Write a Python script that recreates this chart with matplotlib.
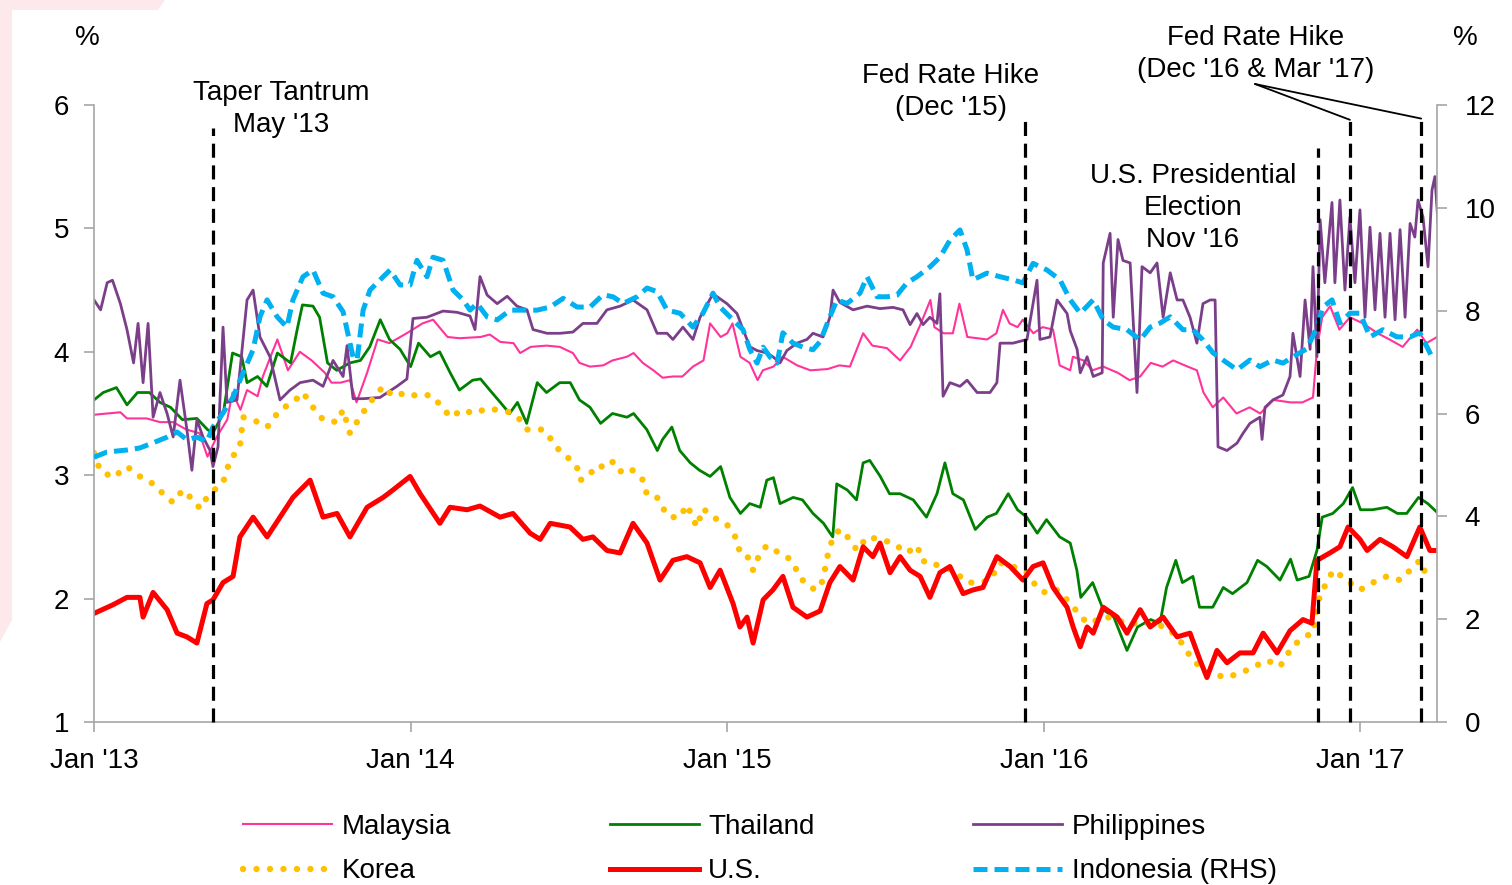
import matplotlib.pyplot as plt
from matplotlib.patches import Polygon

plt.rcParams['font.family'] = ['Liberation Sans', 'DejaVu Sans']

W, H = 1512, 885

# (months since Jan 2013, yield %)
malaysia = [(0.0, 3.49), (1.0, 3.51), (1.25, 3.46), (2.0, 3.46), (2.5, 3.43), (3.0, 3.43), (3.5, 3.37),
            (4.0, 3.34), (4.3, 3.15), (4.65, 3.31), (5.05, 3.45), (5.25, 3.67), (5.55, 3.53), (5.8, 3.69),
            (6.2, 3.64), (6.4, 3.80), (6.8, 4.02), (6.95, 4.10), (7.35, 3.85), (7.8, 4.00), (8.25, 3.93),
            (8.75, 3.83), (9.0, 3.75), (9.35, 3.75), (9.7, 3.77), (9.95, 3.59), (10.35, 3.83), (10.75, 4.10),
            (11.2, 4.07), (11.85, 4.15), (12.45, 4.23), (12.85, 4.26), (13.4, 4.12), (13.85, 4.11),
            (14.65, 4.12), (15.0, 4.14), (15.4, 4.08), (15.9, 4.07), (16.15, 3.99), (16.55, 4.04),
            (17.15, 4.05), (17.65, 4.04), (18.15, 3.99), (18.4, 3.91), (18.8, 3.88), (19.3, 3.89),
            (19.65, 3.93), (20.2, 3.96), (20.45, 3.99), (20.8, 3.91), (21.2, 3.85), (21.55, 3.79),
            (21.95, 3.80), (22.3, 3.80), (22.7, 3.88), (23.1, 3.93), (23.35, 4.23), (23.75, 4.12),
            (24.0, 4.15), (24.2, 4.23), (24.5, 3.96), (24.85, 3.91), (25.15, 3.77), (25.35, 3.85),
            (25.75, 3.88), (26.1, 3.96), (26.65, 3.89), (27.15, 3.85), (27.8, 3.86), (28.25, 3.89),
            (28.65, 3.88), (29.15, 4.15), (29.5, 4.05), (30.05, 4.03), (30.55, 3.93), (30.95, 4.04),
            (31.3, 4.21), (31.7, 4.42), (31.85, 4.20), (32.2, 4.15), (32.55, 4.15), (32.8, 4.39),
            (33.1, 4.12), (33.85, 4.10), (34.2, 4.15), (34.45, 4.34), (34.7, 4.23), (35.0, 4.20),
            (35.2, 4.26), (35.6, 4.15), (35.95, 4.20), (36.35, 4.18), (36.6, 3.89), (37.0, 3.85),
            (37.1, 3.96), (37.5, 3.93), (37.85, 3.85), (38.25, 3.88), (38.8, 3.83), (39.25, 3.77),
            (39.65, 3.80), (40.05, 3.91), (40.5, 3.88), (40.9, 3.93), (41.45, 3.88), (41.8, 3.85),
            (42.05, 3.67), (42.4, 3.55), (42.8, 3.63), (43.3, 3.50), (43.8, 3.55), (44.2, 3.50),
            (44.7, 3.61), (45.35, 3.59), (45.8, 3.59), (46.2, 3.63), (46.35, 4.02), (46.55, 4.28),
            (46.85, 4.37), (47.2, 4.18), (47.6, 4.28), (48.1, 4.23), (48.65, 4.15), (49.1, 4.10),
            (49.6, 4.04), (50.15, 4.18), (50.5, 4.07), (50.9, 4.12)]

thailand = [(0.0, 3.61), (0.35, 3.67), (0.85, 3.71), (1.25, 3.57), (1.65, 3.67), (2.1, 3.67), (2.5, 3.59),
            (2.9, 3.55), (3.35, 3.45), (3.9, 3.46), (4.3, 3.37), (4.5, 3.34), (4.9, 3.50), (5.25, 3.99),
            (5.6, 3.96), (5.8, 3.75), (6.2, 3.80), (6.55, 3.72), (6.95, 3.99), (7.45, 3.91), (7.7, 4.18),
            (7.9, 4.38), (8.3, 4.37), (8.55, 4.28), (8.85, 3.91), (9.2, 3.85), (9.7, 3.91), (10.1, 3.93),
            (10.45, 4.04), (10.85, 4.26), (11.2, 4.10), (11.6, 4.02), (12.0, 3.88), (12.3, 4.07),
            (12.75, 3.96), (13.1, 4.00), (13.5, 3.83), (13.85, 3.69), (14.35, 3.77), (14.65, 3.78),
            (15.0, 3.69), (15.4, 3.59), (15.75, 3.50), (16.05, 3.59), (16.4, 3.42), (16.8, 3.75),
            (17.15, 3.67), (17.65, 3.75), (18.05, 3.75), (18.4, 3.61), (18.8, 3.55), (19.2, 3.42),
            (19.65, 3.50), (20.2, 3.47), (20.45, 3.50), (20.95, 3.37), (21.35, 3.20), (21.55, 3.29),
            (21.9, 3.39), (22.2, 3.20), (22.6, 3.10), (22.95, 3.04), (23.35, 2.99), (23.75, 3.07),
            (24.1, 2.82), (24.5, 2.69), (24.85, 2.77), (25.25, 2.74), (25.5, 2.96), (25.75, 2.98),
            (26.0, 2.77), (26.5, 2.82), (26.85, 2.80), (27.25, 2.69), (27.65, 2.61), (27.9, 2.53),
            (28.0, 2.50), (28.15, 2.93), (28.55, 2.88), (28.9, 2.80), (29.15, 3.10), (29.4, 3.12),
            (29.8, 2.99), (30.15, 2.85), (30.55, 2.85), (31.05, 2.80), (31.55, 2.66), (31.95, 2.85),
            (32.25, 3.10), (32.55, 2.85), (32.95, 2.80), (33.4, 2.56), (33.85, 2.66), (34.2, 2.69),
            (34.65, 2.85), (35.0, 2.72), (35.35, 2.66), (35.75, 2.53), (36.1, 2.64), (36.6, 2.50),
            (37.0, 2.45), (37.25, 2.23), (37.4, 2.01), (37.85, 2.13), (38.25, 1.91), (38.65, 1.85),
            (39.15, 1.58), (39.55, 1.77), (40.05, 1.83), (40.4, 1.80), (40.65, 2.09), (41.0, 2.31),
            (41.25, 2.13), (41.65, 2.18), (41.9, 1.93), (42.4, 1.93), (42.8, 2.09), (43.15, 2.04),
            (43.7, 2.13), (44.1, 2.31), (44.45, 2.26), (44.95, 2.15), (45.35, 2.32), (45.6, 2.15),
            (46.05, 2.18), (46.35, 2.39), (46.55, 2.66), (46.95, 2.69), (47.35, 2.77), (47.7, 2.90),
            (48.0, 2.72), (48.45, 2.72), (49.0, 2.74), (49.4, 2.69), (49.75, 2.69), (50.2, 2.82),
            (50.55, 2.77), (50.9, 2.70)]

philippines = [(0.0, 4.42), (0.25, 4.34), (0.5, 4.56), (0.7, 4.58), (1.0, 4.39), (1.25, 4.18), (1.5, 3.91),
               (1.67, 4.23), (1.86, 3.75), (2.05, 4.23), (2.24, 3.47), (2.5, 3.67), (2.77, 3.50),
               (3.0, 3.31), (3.26, 3.77), (3.52, 3.37), (3.71, 3.04), (3.9, 3.45), (4.13, 3.31),
               (4.4, 3.20), (4.51, 3.07), (4.7, 3.23), (4.89, 4.20), (5.04, 3.59), (5.42, 3.61),
               (5.8, 4.42), (6.03, 4.50), (6.29, 4.12), (6.67, 3.96), (7.05, 3.61), (7.43, 3.69),
               (7.81, 3.75), (8.3, 3.77), (8.68, 3.72), (9.06, 3.93), (9.44, 3.80), (9.59, 4.05),
               (9.82, 3.62), (10.2, 3.62), (10.84, 3.63), (11.48, 3.72), (11.86, 3.78), (12.09, 4.27),
               (12.62, 4.28), (13.23, 4.33), (13.76, 4.32), (14.25, 4.29), (14.44, 4.18), (14.63, 4.61),
               (14.9, 4.46), (15.28, 4.39), (15.66, 4.45), (16.03, 4.37), (16.41, 4.34), (16.64, 4.18),
               (17.17, 4.15), (17.66, 4.15), (18.15, 4.16), (18.53, 4.23), (19.06, 4.23), (19.44, 4.34),
               (19.94, 4.37), (20.43, 4.42), (20.96, 4.34), (21.34, 4.15), (21.72, 4.15), (21.94, 4.10),
               (22.32, 4.20), (22.7, 4.10), (22.97, 4.28), (23.46, 4.47), (23.99, 4.39), (24.37, 4.31),
               (24.6, 4.18), (24.86, 4.04), (25.13, 4.01), (25.51, 3.99), (25.73, 3.96), (26.0, 3.91),
               (26.26, 4.01), (26.64, 4.07), (27.02, 4.10), (27.25, 4.15), (27.63, 4.12), (27.89, 4.28),
               (28.01, 4.50), (28.27, 4.40), (28.77, 4.34), (29.3, 4.37), (29.79, 4.35), (30.28, 4.36),
               (30.66, 4.34), (30.93, 4.22), (31.19, 4.31), (31.42, 4.22), (31.68, 4.28), (31.95, 4.23),
               (32.06, 4.47), (32.18, 3.64), (32.44, 3.75), (32.82, 3.72), (33.09, 3.77), (33.47, 3.67),
               (33.96, 3.67), (34.22, 3.75), (34.34, 4.07), (34.83, 4.07), (35.36, 4.10), (35.74, 4.58),
               (35.85, 4.10), (36.23, 4.12), (36.5, 4.42), (36.88, 4.31), (37.0, 4.17), (37.26, 4.02),
               (37.38, 3.83), (37.64, 3.96), (37.87, 3.80), (38.21, 3.83), (38.25, 4.72), (38.51, 4.96),
               (38.63, 4.28), (38.81, 4.91), (39.0, 4.74), (39.27, 4.72), (39.53, 3.67), (39.72, 4.69),
               (40.03, 4.64), (40.29, 4.72), (40.52, 4.28), (40.79, 4.64), (41.05, 4.42), (41.27, 4.42),
               (41.54, 4.28), (41.8, 4.07), (42.03, 4.39), (42.3, 4.42), (42.49, 4.42), (42.6, 3.23),
               (42.94, 3.20), (43.32, 3.26), (43.55, 3.34), (43.81, 3.42), (44.19, 3.47), (44.27, 3.29),
               (44.38, 3.55), (44.68, 3.61), (45.06, 3.65), (45.33, 3.80), (45.44, 4.15), (45.71, 3.80),
               (45.9, 4.42), (46.09, 4.02), (46.2, 4.69), (46.35, 3.96), (46.47, 5.07), (46.65, 4.56),
               (46.92, 5.21), (47.03, 4.56), (47.22, 5.23), (47.41, 4.50), (47.6, 5.09), (47.79, 4.56),
               (47.98, 5.15), (48.17, 4.28), (48.36, 5.01), (48.55, 4.34), (48.74, 4.96), (48.93, 4.28),
               (49.12, 4.96), (49.31, 4.26), (49.5, 4.99), (49.69, 4.28), (49.88, 5.04), (50.06, 4.93),
               (50.18, 5.23), (50.37, 5.09), (50.56, 4.69), (50.71, 5.31), (50.82, 5.42), (50.94, 5.04)]

korea = [(0.0, 3.18), (0.23, 3.04), (0.72, 2.98), (1.25, 3.07), (1.74, 2.99), (2.24, 2.93), (2.62, 2.85),
         (2.99, 2.78), (3.37, 2.88), (3.75, 2.80), (4.02, 2.73), (4.28, 2.82), (4.66, 2.90), (4.89, 2.94),
         (5.15, 3.12), (5.53, 3.23), (5.65, 3.47), (6.03, 3.45), (6.56, 3.39), (7.05, 3.53), (7.54, 3.59),
         (7.92, 3.67), (8.3, 3.55), (8.68, 3.45), (9.21, 3.43), (9.44, 3.53), (9.7, 3.34), (10.08, 3.47),
         (10.46, 3.59), (10.96, 3.72), (11.33, 3.64), (11.86, 3.67), (12.24, 3.64), (12.74, 3.65),
         (13.23, 3.55), (13.49, 3.47), (13.99, 3.53), (14.37, 3.50), (14.9, 3.54), (15.28, 3.53),
         (15.77, 3.51), (16.15, 3.45), (16.41, 3.37), (17.02, 3.37), (17.29, 3.30), (17.55, 3.22),
         (17.93, 3.15), (18.31, 3.06), (18.42, 2.96), (18.69, 2.98), (19.06, 3.08), (19.44, 3.06),
         (19.67, 3.11), (19.94, 3.03), (20.31, 3.06), (20.81, 2.96), (20.96, 2.84), (21.34, 2.82),
         (21.53, 2.74), (21.83, 2.66), (22.21, 2.66), (22.47, 2.76), (22.85, 2.58), (23.08, 2.73),
         (23.46, 2.66), (23.99, 2.60), (24.37, 2.48), (24.48, 2.37), (24.75, 2.35), (24.98, 2.23),
         (25.24, 2.37), (25.51, 2.43), (25.89, 2.38), (26.26, 2.34), (26.49, 2.29), (26.76, 2.17),
         (27.14, 2.09), (27.4, 2.07), (27.63, 2.15), (27.78, 2.33), (28.01, 2.50), (28.27, 2.56),
         (28.65, 2.48), (28.92, 2.39), (29.3, 2.50), (29.79, 2.48), (30.28, 2.45), (30.81, 2.37),
         (31.19, 2.43), (31.42, 2.30), (31.57, 2.31), (32.06, 2.26), (32.56, 2.23), (33.09, 2.13),
         (33.58, 2.13), (33.96, 2.15), (34.34, 2.29), (34.83, 2.26), (35.36, 2.21), (35.74, 2.09),
         (36.12, 2.04), (36.5, 2.07), (36.88, 1.99), (37.64, 1.80), (38.4, 1.85), (39.15, 1.80),
         (39.91, 1.80), (40.67, 1.77), (41.16, 1.66), (41.65, 1.50), (42.18, 1.40), (42.94, 1.36),
         (43.7, 1.42), (44.46, 1.50), (44.95, 1.45), (45.44, 1.62), (45.97, 1.70), (46.2, 1.72),
         (46.47, 2.04), (46.73, 2.13), (46.96, 2.23), (47.3, 2.18), (47.6, 2.13), (47.98, 2.07),
         (48.47, 2.13), (49.0, 2.18), (49.5, 2.15), (49.88, 2.23), (50.25, 2.31), (50.52, 2.18),
         (50.75, 2.16)]

us = [(0.0, 1.88), (0.72, 1.95), (1.25, 2.01), (1.74, 2.01), (1.86, 1.85), (2.24, 2.05), (2.77, 1.91),
      (3.15, 1.72), (3.52, 1.69), (3.9, 1.64), (4.28, 1.96), (4.51, 1.99), (4.89, 2.13), (5.27, 2.18),
      (5.53, 2.50), (6.03, 2.66), (6.56, 2.50), (7.05, 2.66), (7.54, 2.82), (8.19, 2.96), (8.68, 2.66),
      (9.21, 2.69), (9.7, 2.50), (10.35, 2.74), (10.96, 2.82), (11.33, 2.88), (11.98, 2.99),
      (12.36, 2.85), (13.11, 2.61), (13.49, 2.74), (14.14, 2.72), (14.63, 2.75), (15.39, 2.66),
      (15.88, 2.69), (16.53, 2.53), (16.91, 2.48), (17.29, 2.61), (18.04, 2.58), (18.53, 2.48),
      (18.91, 2.50), (19.44, 2.39), (19.94, 2.37), (20.43, 2.61), (20.96, 2.45), (21.45, 2.15),
      (21.94, 2.31), (22.47, 2.34), (22.97, 2.29), (23.35, 2.09), (23.73, 2.23), (24.22, 1.96),
      (24.48, 1.77), (24.75, 1.85), (24.98, 1.64), (25.36, 1.99), (25.73, 2.07), (26.11, 2.18),
      (26.49, 1.93), (27.02, 1.85), (27.52, 1.90), (27.89, 2.13), (28.27, 2.26), (28.77, 2.15),
      (29.15, 2.42), (29.52, 2.34), (29.79, 2.45), (30.17, 2.21), (30.55, 2.34), (30.93, 2.23),
      (31.31, 2.18), (31.68, 2.01), (32.06, 2.21), (32.44, 2.26), (32.94, 2.04), (33.31, 2.07),
      (33.69, 2.09), (34.22, 2.34), (34.72, 2.26), (35.21, 2.15), (35.59, 2.26), (35.97, 2.29),
      (36.35, 2.09), (36.61, 2.01), (36.88, 1.93), (37.11, 1.77), (37.38, 1.61), (37.64, 1.77),
      (37.87, 1.72), (38.25, 1.93), (38.78, 1.85), (39.15, 1.72), (39.65, 1.91), (40.03, 1.77),
      (40.52, 1.85), (41.05, 1.69), (41.54, 1.72), (41.92, 1.50), (42.18, 1.36), (42.56, 1.58),
      (42.94, 1.48), (43.43, 1.56), (43.93, 1.56), (44.31, 1.72), (44.84, 1.56), (45.33, 1.74),
      (45.82, 1.83), (46.16, 1.80), (46.35, 2.31), (46.84, 2.37), (47.22, 2.42), (47.53, 2.58),
      (47.98, 2.48), (48.25, 2.39), (48.74, 2.48), (49.23, 2.42), (49.76, 2.34), (50.25, 2.58),
      (50.63, 2.39), (50.94, 2.39)]

indonesia = [(0.0, 5.15), (0.49, 5.25), (1.25, 5.29), (1.74, 5.33), (2.24, 5.43), (2.77, 5.54), (3.15, 5.64),
             (3.52, 5.49), (3.9, 5.54), (4.28, 5.45), (4.51, 5.74), (4.89, 6.01), (5.27, 6.32), (5.65, 6.79),
             (6.03, 7.24), (6.29, 7.88), (6.56, 8.21), (6.94, 7.88), (7.31, 7.68), (7.54, 8.21), (7.92, 8.66),
             (8.3, 8.79), (8.68, 8.34), (9.06, 8.27), (9.44, 7.98), (9.7, 7.37), (9.82, 7.10), (9.97, 7.04),
             (10.2, 8.01), (10.46, 8.40), (10.96, 8.66), (11.22, 8.79), (11.6, 8.50), (11.98, 8.50),
             (12.24, 8.98), (12.62, 8.66), (12.85, 9.04), (13.23, 8.98), (13.61, 8.40), (13.99, 8.21),
             (14.25, 8.01), (14.52, 8.14), (14.9, 7.88), (15.28, 7.82), (15.77, 8.01), (16.26, 8.01),
             (16.79, 8.01), (17.29, 8.07), (17.78, 8.24), (18.31, 8.07), (18.8, 8.07), (19.29, 8.31),
             (19.67, 8.27), (20.05, 8.14), (20.58, 8.27), (20.96, 8.44), (21.34, 8.37), (21.72, 8.01),
             (22.21, 7.95), (22.7, 7.68), (23.08, 7.95), (23.46, 8.34), (23.73, 8.07), (24.22, 7.82),
             (24.6, 7.63), (24.86, 7.24), (25.13, 6.98), (25.36, 7.29), (25.62, 7.10), (25.89, 6.98),
             (26.11, 7.57), (26.49, 7.37), (26.87, 7.29), (27.25, 7.24), (27.52, 7.40), (27.89, 7.88),
             (28.16, 8.21), (28.54, 8.14), (29.03, 8.34), (29.3, 8.66), (29.68, 8.27), (30.05, 8.27),
             (30.43, 8.30), (30.81, 8.54), (31.19, 8.66), (31.68, 8.85), (32.06, 9.04), (32.44, 9.37),
             (32.82, 9.57), (33.09, 9.18), (33.31, 8.60), (33.84, 8.73), (34.34, 8.66), (34.83, 8.60),
             (35.21, 8.54), (35.59, 8.92), (36.12, 8.79), (36.61, 8.60), (37.0, 8.21), (37.38, 7.95),
             (37.87, 8.21), (38.25, 7.82), (38.63, 7.68), (39.15, 7.63), (39.65, 7.43), (40.03, 7.68),
             (40.41, 7.76), (40.79, 7.88), (41.27, 7.63), (41.65, 7.63), (42.03, 7.43), (42.41, 7.18),
             (42.79, 7.04), (43.32, 6.85), (43.81, 7.04), (44.19, 6.91), (44.68, 7.04), (45.06, 6.98),
             (45.44, 7.10), (45.97, 7.26), (46.35, 7.68), (46.58, 8.07), (46.92, 8.21), (47.22, 7.76),
             (47.6, 7.95), (47.98, 7.95), (48.36, 7.49), (48.85, 7.63), (49.38, 7.49), (49.88, 7.49),
             (50.25, 7.57), (50.71, 7.10)]

tick_months = [0, 12, 24, 36, 48]
tick_labels = ["Jan '13", "Jan '14", "Jan '15", "Jan '16", "Jan '17"]

# event lines: month position, top of line (left-axis units)
event_m = [4.5, 35.3, 46.4, 47.6, 50.3]
event_top = [5.81, 5.92, 5.65, 5.88, 5.89]


def px(x, y):
    return x / W, 1 - y / H


fig = plt.figure(figsize=(W / 100, H / 100), dpi=100)
fig.patches.append(Polygon([px(0, 0), px(165, 0), px(158, 10), px(12, 10), px(12, 620), px(0, 642)],
                           closed=True, transform=fig.transFigure, facecolor='#fde9ec',
                           edgecolor='none', zorder=0))

ax = fig.add_axes([94 / W, 1 - 722 / H, (1437 - 94) / W, (722 - 105) / H])
ax2 = ax.twinx()

styles = dict(
    Malaysia=dict(color='#FF3399', lw=1.5),
    Thailand=dict(color='#008000', lw=2.0),
    Philippines=dict(color='#7B3F8A', lw=2.0),
    Korea=dict(color='#FFC000', lw=4.6, linestyle=(0, (0.01, 2.1)), dash_capstyle='round'),
)

handles = {}
for name, data in [('Malaysia', malaysia), ('Thailand', thailand),
                   ('Philippines', philippines), ('Korea', korea)]:
    m, v = zip(*data)
    handles[name], = ax.plot(m, v, label=name, **styles[name])

m, v = zip(*us)
handles['U.S.'], = ax.plot(m, v, color='#FF0000', lw=3.6, label='U.S.')

m, v = zip(*indonesia)
handles['Indonesia (RHS)'], = ax2.plot(m, v, color='#00B0F0', lw=3.6, linestyle=(0, (2.8, 1.4)),
                                       label='Indonesia (RHS)')

# event lines on top of everything
for em, et in zip(event_m, event_top):
    ax2.plot([em, em], [0, (et - 1) / 5], transform=ax2.get_xaxis_transform(),
             color='black', lw=2.3, linestyle=(0, (4.4, 2.4)), clip_on=False)

ax.set_xlim(0, 50.9)
ax.set_ylim(1, 6)
ax2.set_ylim(0, 12)
ax.set_xticks(tick_months)
ax.set_xticklabels(tick_labels)
ax.set_yticks([1, 2, 3, 4, 5, 6])
ax2.set_yticks([0, 2, 4, 6, 8, 10, 12])

spine_col = '#a6a6a6'
for a in (ax, ax2):
    a.spines['top'].set_visible(False)
    for s in a.spines.values():
        s.set_color(spine_col)
        s.set_linewidth(1.2)
ax.spines['right'].set_visible(False)
ax2.spines['left'].set_visible(False)
ax2.spines['bottom'].set_visible(False)

ax.tick_params(axis='x', direction='out', length=7, width=1.2, color=spine_col, pad=12, labelsize=20)
ax.tick_params(axis='y', direction='out', length=7, width=1.2, color=spine_col, pad=11, labelsize=20)
ax2.tick_params(axis='y', direction='out', length=7, width=1.2, color=spine_col, pad=13, labelsize=20)

# annotations
txt = dict(fontsize=20, ha='center', va='center', linespacing=1.32)
fig.text(*px(87, 38), '%', **txt)
fig.text(*px(1465, 38), '%', **txt)
fig.text(*px(281, 109), 'Taper Tantrum\nMay \'13', **txt)
fig.text(*px(951, 92), 'Fed Rate Hike\n(Dec \'15)', **txt)
fig.text(*px(1256, 54), 'Fed Rate Hike\n(Dec \'16 & Mar \'17)', **txt)
fig.text(*px(1193, 208), 'U.S. Presidential\nElection\nNov \'16', **txt)

for em, et in zip(event_m[3:], event_top[3:]):
    ax.annotate('', xy=(em, et), xycoords='data', xytext=px(1255, 84), textcoords='figure fraction',
                arrowprops=dict(arrowstyle='-', color='black', lw=1.3, shrinkA=0, shrinkB=0),
                annotation_clip=False)

order = ['Malaysia', 'Korea', 'Thailand', 'U.S.', 'Philippines', 'Indonesia (RHS)']
fig.legend([handles[k] for k in order], order, loc='center', bbox_to_anchor=px(760, 849), ncol=3,
           frameon=False, fontsize=20, handlelength=3.2, handletextpad=0.35, columnspacing=5.7,
           labelspacing=0.68)

fig.savefig('out.png', dpi=100)
